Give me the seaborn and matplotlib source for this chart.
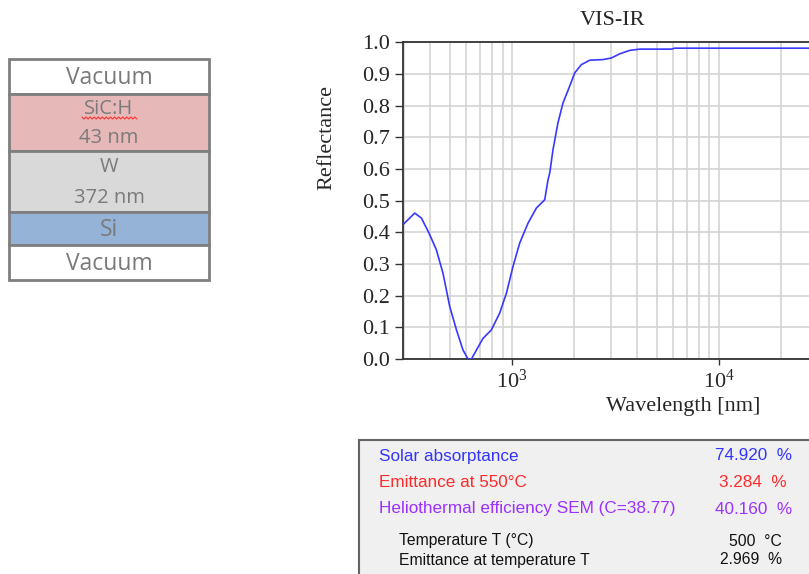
import numpy as np
import matplotlib
matplotlib.use("Agg")
from matplotlib import pyplot as plt
from matplotlib.patches import Rectangle
from matplotlib.ticker import FormatStrFormatter, LogLocator, NullFormatter
import seaborn as sns
import pandas as pd

# reflectance spectrum
wavelength = [297, 339, 365, 397, 431, 464, 500, 539, 580, 613, 637, 673, 724, 795,
              872, 940, 1011, 1089, 1195, 1312, 1439, 1493, 1521, 1578, 1667, 1764,
              1900, 2010, 2164, 2373, 2752, 3022, 3313, 3704, 4140, 5890, 6110, 30000,
              100000]
reflectance = [0.424, 0.461, 0.445, 0.398, 0.345, 0.271, 0.166, 0.092, 0.028, 0.0,
               0.0, 0.028, 0.065, 0.092, 0.145, 0.208, 0.292, 0.366, 0.429, 0.477,
               0.503, 0.566, 0.587, 0.661, 0.746, 0.809, 0.862, 0.904, 0.930, 0.944,
               0.946, 0.951, 0.964, 0.975, 0.979, 0.979, 0.982, 0.982, 0.982]

# layer stack
layer_names = ["Vacuum", "SiC:H\n43 nm", "W\n372 nm", "Si", "Vacuum"]
layer_colors = ["#ffffff", "#e6b8b7", "#d9d9d9", "#95b3d7", "#ffffff"]
layer_edges = [59, 94, 151, 212, 245, 280]

# results table
result_labels = ["Solar absorptance", "Emittance at 550°C",
                 "Heliothermal efficiency SEM (C=38.77)"]
result_values = ["74.920  %", "3.284  %", "40.160  %"]
result_colors = ["#3333ff", "#ff2a2a", "#9b30ff"]
temp_labels = ["Temperature T (°C)", "Emittance at temperature T"]
temp_values = ["500  °C", "2.969  %"]

sns.set_style("white")
plt.rcParams['font.family'] = ['Liberation Serif', 'DejaVu Serif']

fig = plt.figure(figsize=(8.09, 5.74), dpi=100)

# background layer for the stack diagram and the results box (pixel coords)
bg = fig.add_axes([0, 0, 1, 1])
bg.set_xlim(0, 809)
bg.set_ylim(574, 0)
bg.axis("off")

for i, name in enumerate(layer_names):
    top, bot = layer_edges[i], layer_edges[i + 1]
    bg.add_patch(Rectangle((9, top), 200, bot - top, facecolor=layer_colors[i],
                           edgecolor="#7f7f7f", lw=2))
    lines = name.split("\n")
    if len(lines) == 1:
        bg.text(109, (top + bot) / 2 + 1, lines[0], ha="center", va="center",
                fontsize=16.5, color="#7a7a7a", family="Open Sans")
    else:
        h = (bot - top) / 2
        for j, t in enumerate(lines):
            bg.text(109, top + h * (j + 0.5) + 1, t, ha="center", va="center",
                    fontsize=14.5, color="#7a7a7a", family="Open Sans")

# spell-check squiggle under SiC:H
zx = np.linspace(82, 137, 28)
zy = 118 + np.where(np.arange(28) % 2 == 0, -1.0, 1.0)
bg.plot(zx, zy, color="#ff3030", lw=0.8)

bg.add_patch(Rectangle((359, 440), 470, 150, facecolor="#f0f0f0",
                       edgecolor="#646464", lw=1.5))
for i, (lab, val, col) in enumerate(zip(result_labels, result_values, result_colors)):
    y = 456 + i * 26.5
    bg.text(379, y, lab, ha="left", va="center", fontsize=12.3, color=col,
            family="Liberation Sans")
    bg.text(792 if i != 1 else 787, y, val, ha="right", va="center", fontsize=12.3,
            color=col, family="Liberation Sans")
for i, (lab, val) in enumerate(zip(temp_labels, temp_values)):
    y = 541 + i * 19
    bg.text(399, y, lab, ha="left", va="center", fontsize=11.3, color="#111111",
            family="Liberation Sans")
    bg.text(782, y, val, ha="right", va="center", fontsize=11.3, color="#111111",
            family="Liberation Sans")

# spectrum plot
ax = fig.add_axes([0.498, 0.3746, 0.6465, 0.5514])
df = pd.DataFrame({"Wavelength": wavelength, "Reflectance": reflectance})
sns.lineplot(data=df, x="Wavelength", y="Reflectance", ax=ax, color="#3838ff",
             lw=1.2, zorder=3)
ax.set_xscale("log")
ax.set_xlim(297, 100000)
ax.set_ylim(0, 1.0)
ax.set_xticks([1e3, 1e4])
ax.set_yticks(np.arange(0, 1.01, 0.1))
ax.yaxis.set_major_formatter(FormatStrFormatter("%.1f"))
ax.xaxis.set_minor_locator(LogLocator(base=10, subs=np.arange(2, 10)))
ax.xaxis.set_minor_formatter(NullFormatter())
ax.grid(True, which="both", color="#d4d4d4", lw=1.2)
ax.tick_params(axis="both", which="major", direction="out", width=1,
               labelsize=16, color="#333333", left=True, bottom=True)
ax.tick_params(axis="y", which="major", length=6)
ax.tick_params(axis="x", which="major", length=4)
ax.tick_params(axis="x", which="minor", length=0)
for s in ["left", "bottom", "top"]:
    ax.spines[s].set_color("#333333")
    ax.spines[s].set_linewidth(1.3)

ax.set_xlabel("Wavelength [nm]", fontsize=16)
ax.xaxis.set_label_coords(0.535, -0.12)
ax.set_ylabel("Reflectance", fontsize=16)
ax.yaxis.set_label_coords(-0.128, 0.70)
ax.set_title("VIS-IR", fontsize=16, x=0.40, y=1.055, pad=0)

fig.savefig("out.png", dpi=100)
